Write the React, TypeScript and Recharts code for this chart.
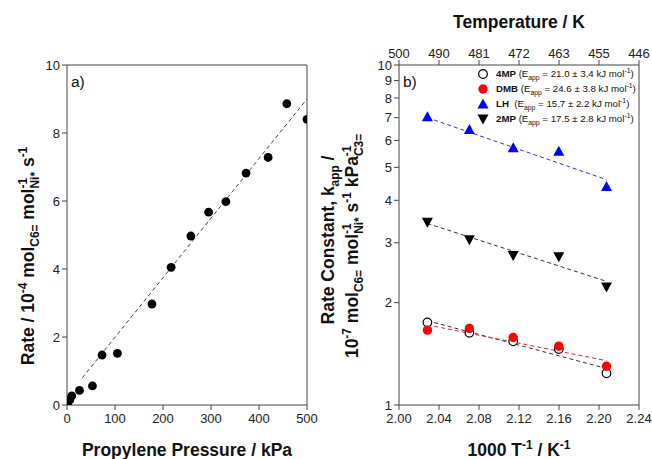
import React from 'react';
import {
  ComposedChart, Scatter, Line, XAxis, YAxis, ReferenceLine, Label, Legend,
} from 'recharts';

// ---------- data: panel a ----------
const pressure = [1, 6, 10, 26, 53, 73, 105, 177, 217, 258, 295, 331, 373, 419, 458, 500];
const rate = [0.03, 0.15, 0.27, 0.43, 0.56, 1.47, 1.52, 2.97, 4.05, 4.97, 5.67, 5.98, 6.82, 7.28, 8.86, 8.4];
const fitAx = [32, 500];
const fitAy = [0.8, 9.0];
const aXTicks = [0, 100, 200, 300, 400, 500];
const aYTicks = [0, 2, 4, 6, 8, 10];

// ---------- data: panel b ----------
const invT = [2.0284, 2.0704, 2.1142, 2.1598, 2.2075];
const k4MP = [1.75, 1.63, 1.54, 1.46, 1.24];
const kDMB = [1.66, 1.68, 1.58, 1.49, 1.3];
const kLH = [7.02, 6.44, 5.69, 5.56, 4.38];
const k2MP = [3.46, 3.07, 2.76, 2.74, 2.23];
const fitX = [2.0284, 2.2075];
const fit4MP = [1.77, 1.28];
const fitDMB = [1.72, 1.35];
const fitLH = [7.0, 4.6];
const fit2MP = [3.42, 2.31];
const bXTicks = [2.0, 2.04, 2.08, 2.12, 2.16, 2.2, 2.24];
const bYTicks = [1, 2, 3, 4, 5, 6, 7, 8, 9, 10];

const legendNames = ['4MP', 'DMB', 'LH', '2MP'];
const legendEapp = ['21.0 ± 3.4', '24.6 ± 3.8', '15.7 ± 2.2', '17.5 ± 2.8'];
const legendMarkers = ['open', 'red', 'up', 'down'];

const zip = (xs: number[], ys: number[]) => xs.map((x, i) => ({ x, y: ys[i] }));

const FONT = '"Liberation Sans", Arial, Helvetica, sans-serif';
const AX = '#444';
const TICK = { fontSize: 13, fill: '#222', fontFamily: FONT };
const TICK_B = { ...TICK, dy: 2 };
const TITLE = 17.5;

type Part = { t: string; s?: 'sup' | 'sub'; dx?: number };

function Rich({ x, y, parts, fs, rot, weight = 'bold', anchor = 'middle' }: { x: number; y: number; parts: Part[]; fs: number; rot?: boolean; weight?: string; anchor?: string }) {
  let cur = 0;
  const small = fs * 0.68;
  return (
    <text
      x={x}
      y={y}
      textAnchor={anchor as any}
      fontFamily={FONT}
      fontWeight={weight}
      fontSize={fs}
      fill="#111"
      transform={rot ? `rotate(-90 ${x} ${y})` : undefined}
    >
      {parts.map((p, i) => {
        const target = p.s === 'sup' ? -fs * 0.4 : p.s === 'sub' ? fs * 0.28 : 0;
        const dy = target - cur;
        cur = target;
        return (
          <tspan key={i} dy={dy} dx={(p.dx ?? 0) * fs / 15} fontSize={p.s ? small : fs}>
            {p.t}
          </tspan>
        );
      })}
    </text>
  );
}

const openCircle = (p: any) => <circle cx={p.cx} cy={p.cy} r={4.3} fill="#fff" stroke="#000" strokeWidth={1.2} />;
const redCircle = (p: any) => <circle cx={p.cx} cy={p.cy} r={4.7} fill="#ff0000" />;
const blackDot = (p: any) => <circle cx={p.cx} cy={p.cy} r={4.4} fill="#000" />;
const upTri = (p: any) => (
  <polygon points={`${p.cx},${p.cy - 6} ${p.cx + 5.5},${p.cy + 4} ${p.cx - 5.5},${p.cy + 4}`} fill="#0000ff" />
);
const downTri = (p: any) => (
  <polygon points={`${p.cx - 5.5},${p.cy - 4} ${p.cx + 5.5},${p.cy - 4} ${p.cx},${p.cy + 6}`} fill="#000" />
);

function LegendMarker({ kind }: { kind: string }) {
  const c = { cx: 6, cy: 6 };
  return (
    <svg width={12} height={12} style={{ display: 'block' }}>
      {kind === 'open' && openCircle(c)}
      {kind === 'red' && redCircle(c)}
      {kind === 'up' && upTri({ cx: 6, cy: 6.5 })}
      {kind === 'down' && downTri({ cx: 6, cy: 5.5 })}
    </svg>
  );
}

const renderLegend = () => (
  <div style={{ fontFamily: FONT, fontSize: 9.7, color: '#111' }}>
    {legendNames.map((n, i) => (
      <div key={n} style={{ display: 'flex', alignItems: 'center', height: 14.8, whiteSpace: 'nowrap' }}>
        <LegendMarker kind={legendMarkers[i]} />
        <span style={{ marginLeft: 7 }}>
          <b>{n}</b>
          {n === 'LH' ? '\u00a0\u00a0' : ' '}(E<sub style={{ fontSize: 6.8 }}>app</sub> = {legendEapp[i]} kJ mol
          <sup style={{ fontSize: 6.8 }}>-1</sup>)
        </span>
      </div>
    ))}
  </div>
);

const leftYLabel: Part[] = [
  { t: 'Rate / 10' }, { t: '-4', s: 'sup' }, { t: ' mol' }, { t: 'C6=', s: 'sub' }, { t: ' mol' },
  { t: '-1', s: 'sup' }, { t: 'Ni*', s: 'sub', dx: -9 }, { t: ' s' }, { t: '-1', s: 'sup' },
];
const rightYLabel1: Part[] = [{ t: 'Rate Constant, k' }, { t: 'app', s: 'sub' }, { t: ' /' }];
const rightYLabel2: Part[] = [
  { t: '10' }, { t: '-7', s: 'sup' }, { t: ' mol' }, { t: 'C6=', s: 'sub' }, { t: ' mol' },
  { t: '-1', s: 'sup' }, { t: 'Ni*', s: 'sub', dx: -9 }, { t: ' s' }, { t: '-1', s: 'sup' },
  { t: ' kPa' }, { t: '-1', s: 'sup' }, { t: 'C3=', s: 'sub', dx: -9 },
];
const bottomRightLabel: Part[] = [{ t: '1000 T' }, { t: '-1', s: 'sup' }, { t: ' / K' }, { t: '-1', s: 'sup' }];

export default function App() {
  const aData = zip(pressure, rate);
  const aFit = zip(fitAx, fitAy);
  const dash = { strokeWidth: 1, strokeDasharray: '4 3', dot: false, isAnimationActive: false } as const;
  return (
    <div style={{ position: 'absolute', left: 0, top: 0, width: 652, height: 459, background: '#fff', fontFamily: FONT }}>
      <div style={{ position: 'absolute', left: 0, top: 0 }}>
        <ComposedChart width={330} height={459} margin={{ top: 65, right: 23, bottom: 0, left: 0 }}>
          <XAxis
            type="number" dataKey="x" domain={[0, 500]} ticks={aXTicks} allowDataOverflow
            height={54} stroke={AX} tick={TICK_B} tickSize={5} interval={0}
          >
            <Label content={() => <Rich x={187} y={456} fs={TITLE} parts={[{ t: 'Propylene Pressure / kPa' }]} />} />
          </XAxis>
          <YAxis
            type="number" dataKey="y" domain={[0, 10]} ticks={aYTicks} allowDataOverflow
            width={67} stroke={AX} tick={TICK} tickSize={5} interval={0}
          >
            <Label
              content={() => (
                <g>
                  <Rich x={34} y={256} fs={TITLE} rot parts={leftYLabel} />
                  <Rich x={71} y={87} fs={15.5} weight="normal" anchor="start" parts={[{ t: 'a)' }]} />
                </g>
              )}
            />
          </YAxis>
          <ReferenceLine y={10} stroke={AX} strokeWidth={1} />
          <ReferenceLine x={500} stroke={AX} strokeWidth={1} />
          <Line data={aFit} dataKey="y" stroke="#444" {...dash} />
          <Scatter data={aData} dataKey="y" shape={blackDot} isAnimationActive={false} />
        </ComposedChart>
      </div>
      <div style={{ position: 'absolute', left: 310, top: 0 }}>
        <ComposedChart width={342} height={459} margin={{ top: 0, right: 13, bottom: 0, left: 0 }}>
          <XAxis
            type="number" dataKey="x" domain={[2.0, 2.24]} ticks={bXTicks} allowDataOverflow
            height={54} stroke={AX} tick={TICK_B} tickSize={5} interval={0}
            tickFormatter={(v: number) => v.toFixed(2)}
          >
            <Label content={() => <Rich x={209} y={456} fs={TITLE} parts={bottomRightLabel} />} />
          </XAxis>
          <XAxis
            xAxisId="top" orientation="top" type="number" dataKey="x" domain={[2.0, 2.24]} ticks={bXTicks} allowDataOverflow
            height={65} stroke={AX} tick={TICK} tickSize={5} interval={0}
            tickFormatter={(v: number) => String(Math.round(1000 / v))}
          >
            <Label content={() => <Rich x={209} y={28} fs={TITLE} parts={[{ t: 'Temperature / K' }]} />} />
          </XAxis>
          <YAxis
            type="number" dataKey="y" scale="log" domain={[1, 10]} ticks={bYTicks} allowDataOverflow
            width={89} stroke={AX} tick={TICK} tickSize={5} interval={0}
          >
            <Label
              content={() => (
                <g>
                  <Rich x={24} y={240} fs={TITLE} rot parts={rightYLabel1} />
                  <Rich x={48} y={246} fs={TITLE} rot parts={rightYLabel2} />
                  <Rich x={93} y={87} fs={15.5} weight="normal" anchor="start" parts={[{ t: 'b)' }]} />
                </g>
              )}
            />
          </YAxis>
          <ReferenceLine x={2.24} stroke={AX} strokeWidth={1} />
          <Line xAxisId="top" data={zip(fitX, fitLH)} dataKey="y" stroke="#3333dd" {...dash} />
          <Line xAxisId="top" data={zip(fitX, fit2MP)} dataKey="y" stroke="#333" {...dash} />
          <Line xAxisId="top" data={zip(fitX, fit4MP)} dataKey="y" stroke="#333" {...dash} />
          <Line xAxisId="top" data={zip(fitX, fitDMB)} dataKey="y" stroke="#ee2222" {...dash} />
          <Scatter data={zip(invT, k4MP)} dataKey="y" shape={openCircle} isAnimationActive={false} />
          <Scatter data={zip(invT, kDMB)} dataKey="y" shape={redCircle} isAnimationActive={false} />
          <Scatter data={zip(invT, kLH)} dataKey="y" shape={upTri} isAnimationActive={false} />
          <Scatter data={zip(invT, k2MP)} dataKey="y" shape={downTri} isAnimationActive={false} />
          <Legend
            layout="horizontal" verticalAlign="middle" align="center"
            content={renderLegend}
            wrapperStyle={{ top: 67, left: 167, width: 172, height: 60, margin: 0 }}
          />
        </ComposedChart>
      </div>
    </div>
  );
}
